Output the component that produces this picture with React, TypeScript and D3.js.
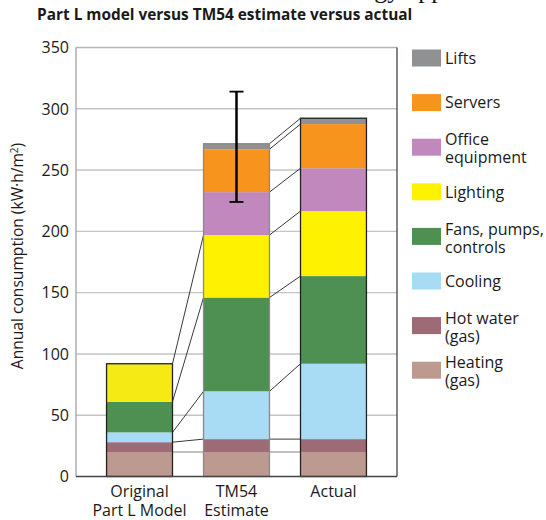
import React from "react";
import * as d3 from "d3";

const categories = ["Original|Part L Model", "TM54|Estimate", "Actual"];
const series = ["Heating (gas)", "Hot water (gas)", "Cooling", "Fans, pumps, controls", "Lighting", "Office equipment", "Servers", "Lifts"];
const legendLabels = [["Lifts"], ["Servers"], ["Office", "equipment"], ["Lighting"], ["Fans, pumps,", "controls"], ["Cooling"], ["Hot water", "(gas)"], ["Heating", "(gas)"]];
const colors = ["#bc9a8f", "#9d6b75", "#a7dcf4", "#4e8f52", "#fff200", "#c088bc", "#f7941d", "#909193"];
const originalValues = [20, 8, 8, 25, 31, 0, 0, 0];
const tm54Values = [20, 10.5, 39, 76.5, 51, 35, 35, 4.5];
const actualValues = [20, 10.5, 61.5, 71.5, 53, 35, 36, 4.8];
const errorBar = [224, 314];
const yTicks = [0, 50, 100, 150, 200, 250, 300, 350];

const W = 546, H = 520;
const left = 76, right = 397, top = 47.5, bottom = 476.5;

export default function App() {
  const y = d3.scaleLinear().domain([0, 350]).range([bottom, top]);
  const x = d3.scaleBand().domain(categories).range([left, right]).paddingInner(0.32).paddingOuter(0.315);
  const all = [originalValues, tm54Values, actualValues];
  const stacks = all.map((vals) => {
    let acc = 0;
    return vals.map((v) => { const s = acc; acc += v; return [s, acc]; });
  });
  const totals = stacks.map((s) => s[s.length - 1][1]);
  const bw = x.bandwidth();
  const borderColors = ["#222", "#8a8a8a", "#222"];

  const connectors: any[] = [];
  for (let b = 0; b < 2; b++) {
    const x0 = (x(categories[b]) as number) + bw;
    const x1 = x(categories[b + 1]) as number;
    for (let i = 0; i < series.length; i++) {
      if (all[b][i] === 0 && i > 0) continue;
      const y0 = y(stacks[b][i][1]);
      const y1 = y(stacks[b + 1][i][1]);
      connectors.push(
        <line key={`c${b}-${i}`} x1={x0} y1={y0} x2={x1} y2={y1} stroke={i === 0 ? "#999" : "#222"} strokeWidth={i === 0 ? 1.2 : 0.9} />
      );
    }
  }

  const ex = (x(categories[1]) as number) + bw / 2;

  return (
    <svg width={W} height={H} style={{ position: "absolute", left: 0, top: 0 }} fontFamily="'Open Sans', sans-serif">
      <rect x={0} y={0} width={W} height={H} fill="#fff" />
      <text x={330} y={-2.3} fontFamily="'Liberation Serif', serif" fontSize={26} fill="#111">energy approach</text>
      <text x={37} y={20} fontSize={15.4} fontWeight="bold" fill="#1a1a1a">Part L model versus TM54 estimate versus actual</text>

      {yTicks.map((t) => (
        <g key={t}>
          {t > 0 && t < 350 && <line x1={left} x2={right} y1={y(t)} y2={y(t)} stroke="#c4c4c4" strokeWidth={1.4} />}
          <text x={69} y={y(t)} dy="0.36em" textAnchor="end" fontSize={16} fill="#1a1a1a">{t}</text>
        </g>
      ))}
      <line x1={left} x2={right} y1={top} y2={top} stroke="#b5b5b5" strokeWidth={1.5} />
      <line x1={left} x2={left} y1={top} y2={bottom} stroke="#9a9a9a" strokeWidth={1.2} />
      <line x1={right} x2={right} y1={top} y2={bottom} stroke="#444" strokeWidth={1.3} />

      {connectors}

      {categories.map((c, b) => (
        <g key={c}>
          {series.map((s, i) => all[b][i] > 0 && (
            <rect key={s} x={x(c)} width={bw} y={y(stacks[b][i][1])} height={y(stacks[b][i][0]) - y(stacks[b][i][1])}
              fill={b === 0 && i === 4 ? "#f5ea14" : colors[i]} />
          ))}
          <rect x={x(c)} width={bw} y={y(totals[b])} height={y(0) - y(totals[b])} fill="none" stroke={borderColors[b]} strokeWidth={1.3} />
          <text x={(x(c) as number) + bw / 2} y={497} textAnchor="middle" fontSize={16} fill="#1a1a1a">
            {c.split("|").map((l, k) => (
              <tspan key={k} x={(x(c) as number) + bw / 2} dy={k === 0 ? 0 : 18.5}>{l}</tspan>
            ))}
          </text>
        </g>
      ))}

      <line x1={left} x2={right} y1={bottom} y2={bottom} stroke="#444" strokeWidth={1.6} />

      <line x1={ex} x2={ex} y1={y(errorBar[0])} y2={y(errorBar[1])} stroke="#000" strokeWidth={2.5} />
      <line x1={ex - 7} x2={ex + 7} y1={y(errorBar[0])} y2={y(errorBar[0])} stroke="#000" strokeWidth={1.8} />
      <line x1={ex - 7} x2={ex + 7} y1={y(errorBar[1])} y2={y(errorBar[1])} stroke="#000" strokeWidth={1.8} />

      <text transform={`translate(23,256) rotate(-90)`} textAnchor="middle" fontSize={15.6} fill="#1a1a1a">
        Annual consumption (kW·h/m<tspan dy={-5} fontSize={10}>2</tspan><tspan dy={5}>)</tspan>
      </text>

      {legendLabels.map((lines, i) => {
        const yy = 49.5 + i * 44.6;
        return (
          <g key={i}>
            <rect x={412} y={yy} width={29} height={17} fill={colors[7 - i]} />
            <text x={445} y={lines.length === 1 ? yy + 8.5 : yy + 1} dy="0.36em" fontSize={16} fill="#1a1a1a">
              {lines.map((l, k) => (
                <tspan key={k} x={445} dy={k === 0 ? "0.36em" : 18}>{l}</tspan>
              ))}
            </text>
          </g>
        );
      })}
    </svg>
  );
}
